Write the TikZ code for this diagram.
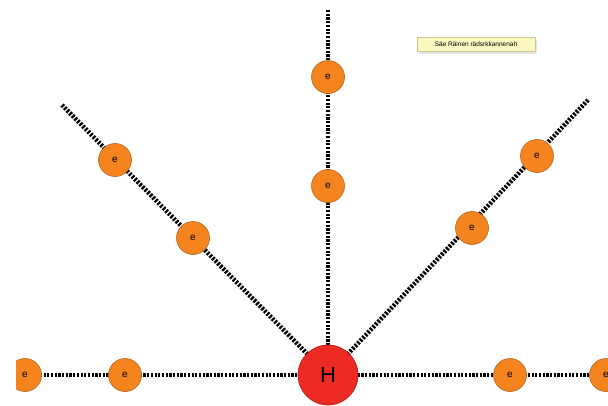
\documentclass[tikz,border=0pt]{standalone}
\usepackage{fontspec}
\setmainfont{Liberation Sans}
\usepackage{tikz}
\usetikzlibrary{shadows}
\definecolor{eorange}{HTML}{F5841F}
\definecolor{eborder}{HTML}{B5651D}
\definecolor{hred}{HTML}{EE2A24}
\definecolor{hborder}{HTML}{B01A16}
\definecolor{noteyellow}{HTML}{FBF8C0}

\begin{document}
\begin{tikzpicture}[
  x=1pt, y=-1pt,
  electron/.style={circle, draw=eborder, fill=eorange, line width=0.6pt,
                   minimum size=33pt, inner sep=0pt, font=\fontsize{10}{10}\selectfont},
  nucleus/.style={circle, draw=hborder, fill=hred, line width=0.6pt,
                  minimum size=60pt, inner sep=0pt, font=\fontsize{22}{22}\selectfont},
  bond/.style={line width=4.5pt, dash pattern=on 2.2pt off 1.5pt},
  note/.style={draw=noteyellow!80!black, line width=0.3pt, fill=noteyellow,
               drop shadow={opacity=0.2, shadow xshift=1.5pt, shadow yshift=-3pt},
               minimum width=118pt, minimum height=14pt,
               inner xsep=3pt, inner ysep=2.5pt, font=\fontsize{6.5}{7}\selectfont}
]
  \useasboundingbox (0,0) rectangle (608,405);
  \begin{scope}
  \clip (16,0) rectangle (608,405);

  % nucleus and shell positions
  \coordinate (h) at (328,375);
  \coordinate (lend) at (25,375);
  \coordinate (rend) at (606,375);
  \coordinate (top) at (328,10);
  \coordinate (ltop) at (62,105);
  \coordinate (rtop) at (588,100);

  % bonds
  \draw[bond] (lend) -- (h);
  \draw[bond] (h) -- (rend);
  \draw[bond] (top) -- (h);
  \draw[bond] (ltop) -- (h);
  \draw[bond] (rtop) -- (h);

  % electrons
  \node[electron] (e1) at (lend) {e};
  \node[electron] (e2) at (125,375) {e};
  \node[electron] (e3) at (510,375) {e};
  \node[electron] (e4) at (rend) {e};
  \node[electron] (e5) at (328,77) {e};
  \node[electron] (e6) at (328,186) {e};
  \node[electron] (e7) at (115,160) {e};
  \node[electron] (e8) at (193,238) {e};
  \node[electron] (e9) at (537,156) {e};
  \node[electron] (e10) at (472,228) {e};

  \node[nucleus] (H) at (h) {H};

  \node[note] (label) at (476,44) {Säe Räinen rädsrkkannenah};
  \end{scope}
\end{tikzpicture}
\end{document}
